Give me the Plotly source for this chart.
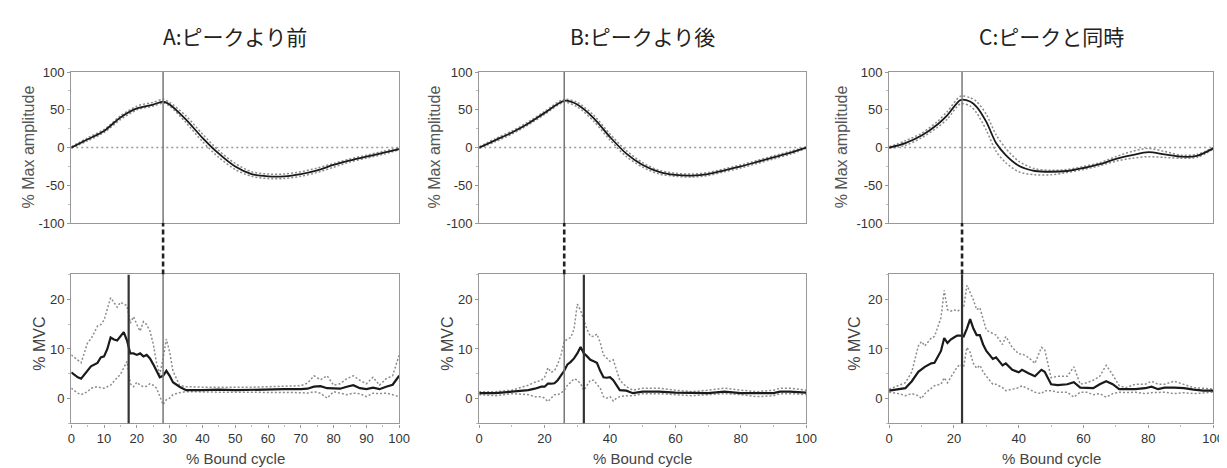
import plotly.graph_objects as go

# ---------------- data ----------------
panel_titles = ["A:ピークより前", "B:ピークより後", "C:ピークと同時"]
peak_x = [28, 26, 22.5]          # peak of movement amplitude
emg_peak_x = [17.5, 32, 22.5]    # peak of EMG

# top panels: % Max amplitude (mean, upper, lower)
amp_x_A = [0, 5, 10, 15, 20, 25, 28, 30, 35, 40, 45, 50, 55, 60, 65, 70, 75, 80, 85, 90, 95, 100]
amp_mean_A = [0, 11, 22, 40, 52, 57, 61, 57, 37, 13, -8, -25, -35, -38, -38, -35, -30, -23, -17, -12, -7, -2]
amp_up_A = [1, 13, 24, 42, 55, 60, 64, 60, 42, 18, -4, -21, -32, -35, -35, -32, -27, -21, -15, -10, -5, 0]
amp_lo_A = [-1, 9, 20, 37, 50, 55, 59, 55, 33, 8, -13, -29, -38, -41, -41, -38, -33, -26, -19, -14, -9, -3]

amp_x_B = [0, 5, 10, 15, 20, 26, 30, 35, 40, 45, 50, 55, 60, 65, 70, 75, 80, 85, 90, 95, 100]
amp_mean_B = [0, 10, 20, 32, 46, 62, 57, 39, 14, -8, -23, -32, -36, -37, -35, -30, -25, -19, -13, -7, 0]
amp_up_B = [1, 12, 22, 34, 48, 64, 60, 43, 18, -4, -20, -30, -34, -35, -33, -28, -23, -17, -11, -5, 1]
amp_lo_B = [-1, 8, 18, 30, 44, 60, 54, 35, 10, -12, -26, -35, -38, -39, -37, -32, -27, -21, -15, -9, -1]

amp_x_C = [0, 5, 10, 15, 18, 22, 25, 27, 30, 33, 36, 40, 45, 50, 55, 60, 65, 70, 75, 80, 85, 90, 95, 100]
amp_mean_C = [0, 6, 16, 31, 43, 63, 61, 54, 34, 6, -10, -24, -31, -32, -31, -27, -22, -15, -10, -6, -9, -12, -11, -1]
amp_up_C = [1, 9, 19, 35, 48, 68, 66, 61, 44, 17, -1, -18, -28, -30, -29, -25, -20, -12, -5, -1, -5, -10, -9, 0]
amp_lo_C = [-1, 3, 13, 27, 38, 58, 55, 46, 23, -5, -20, -32, -36, -36, -33, -29, -24, -18, -14, -12, -13, -14, -13, -2]

# bottom panels: % MVC (mean, upper, lower)
emg_x_A = [0, 2, 3, 5, 6, 8, 9, 10, 11, 12, 13, 14, 15, 16, 17, 18, 19, 20, 21, 22, 23, 24, 25, 26, 27, 28, 29, 30,
           31, 33, 35, 40, 45, 50, 55, 60, 65, 70, 72, 74, 76, 78, 80, 82, 84, 86, 88, 90, 92, 94, 96, 98, 100]
emg_mean_A = [5.3, 4.3, 4.0, 5.6, 6.5, 7.2, 8.3, 8.5, 10.0, 12.3, 11.9, 11.7, 12.6, 13.4, 11.7, 9.1, 9.1, 8.8, 9.1,
              8.5, 8.8, 8.1, 6.9, 5.6, 4.3, 4.6, 5.6, 4.6, 3.3, 2.4, 1.7, 1.7, 1.8, 1.7, 1.8, 1.9, 1.9, 1.9, 2.0,
              2.4, 2.5, 2.1, 2.0, 2.0, 2.4, 2.7, 2.1, 1.9, 2.2, 1.9, 2.4, 2.8, 4.6]
emg_up_A = [8.8, 7.8, 7.2, 11.3, 12.0, 14.6, 14.9, 15.8, 18.0, 20.3, 19.4, 18.4, 19.4, 19.0, 18.7, 15.2, 16.5, 14.9,
            13.6, 15.5, 14.9, 13.6, 11.0, 7.2, 4.9, 8.1, 12.0, 9.4, 5.6, 2.7, 2.4, 2.3, 2.3, 2.2, 2.3, 2.4, 2.5, 2.6,
            3.1, 4.6, 3.8, 4.6, 2.7, 3.0, 4.0, 4.6, 3.7, 3.0, 4.3, 2.7, 4.0, 4.6, 8.8]
emg_lo_A = [2.1, 1.1, 0.8, 1.4, 2.1, 2.4, 2.2, 2.1, 2.4, 2.7, 3.5, 4.3, 4.9, 6.2, 7.5, 3.0, 2.4, 3.3, 2.7, 2.4, 2.5,
            3.0, 2.7, 2.1, 0.4, -1.2, -0.2, 0.1, 0.8, 1.2, 1.4, 1.3, 1.3, 1.3, 1.3, 1.3, 1.2, 1.2, 1.1, 1.4, 1.1, 0.1,
            1.4, 1.1, 0.8, 1.1, 1.0, 0.4, 1.1, 1.0, 1.1, 0.8, 0.4]

emg_x_B = [0, 5, 10, 15, 17, 19, 20, 21, 22, 23, 24, 25, 26, 27, 28, 29, 30, 31, 32, 33, 34, 35, 36, 37, 38, 39, 40,
           41, 42, 43, 45, 47, 50, 55, 60, 65, 70, 75, 80, 85, 90, 92, 95, 100]
emg_mean_B = [1.1, 1.1, 1.4, 1.7, 2.0, 2.4, 2.4, 3.0, 3.0, 3.1, 3.7, 4.6, 5.6, 6.9, 7.4, 8.1, 9.1, 10.4, 9.1, 8.5,
              7.8, 7.5, 7.2, 5.6, 4.3, 4.2, 4.3, 3.7, 2.7, 1.7, 1.6, 1.1, 1.4, 1.4, 1.2, 1.1, 1.1, 1.4, 1.1, 1.1,
              1.1, 1.4, 1.4, 1.2]
emg_up_B = [1.4, 1.4, 1.7, 2.7, 3.3, 3.7, 4.3, 6.2, 5.3, 5.6, 6.9, 8.8, 11.5, 12.0, 12.3, 14.0, 19.0, 17.8, 15.8,
            13.9, 12.6, 12.5, 13.0, 11.3, 8.8, 8.1, 7.5, 7.8, 5.6, 3.7, 2.4, 1.7, 2.1, 2.1, 1.7, 1.4, 1.7, 2.1, 1.7,
            1.4, 1.7, 2.1, 2.1, 1.7]
emg_lo_B = [0.8, 0.6, 1.0, 0.8, 0.4, 0.4, 0.1, -0.6, 0.1, 0.8, 0.8, 1.1, 1.7, 2.7, 3.3, 4.0, 3.7, 3.0, 1.7, 2.7,
            3.7, 3.7, 3.0, 2.1, 0.4, 0.1, 0.4, -0.5, 0.1, 0.4, 0.6, 0.6, 1.0, 1.0, 0.8, 0.6, 0.8, 1.0, 0.8, 0.4,
            0.6, 1.0, 1.0, 0.8]

emg_x_C = [0, 3, 5, 7, 9, 10, 11, 13, 14, 16, 17, 18, 19, 20, 21, 22, 23, 24, 25, 26, 27, 28, 29, 30, 32, 33, 35,
           36, 38, 40, 41, 43, 45, 47, 48, 50, 52, 55, 57, 59, 61, 63, 65, 67, 69, 71, 73, 76, 79, 81, 83, 85, 88,
           91, 94, 97, 100]
emg_mean_C = [1.6, 1.9, 2.1, 3.5, 5.4, 5.9, 6.4, 7.1, 7.2, 9.6, 12.2, 11.2, 11.9, 12.3, 12.7, 12.7, 12.5, 14.1,
              16.0, 14.1, 12.8, 12.8, 10.9, 9.6, 8.0, 8.3, 6.7, 7.1, 5.8, 5.3, 5.8, 5.1, 4.5, 5.8, 5.4, 2.9, 2.7,
              2.9, 3.3, 2.2, 2.1, 2.1, 2.9, 3.5, 2.9, 1.9, 1.9, 1.9, 2.1, 2.4, 1.9, 2.2, 2.2, 2.1, 1.8, 1.6, 1.6]
emg_up_C = [1.9, 2.6, 3.2, 5.4, 10.6, 11.5, 10.6, 12.2, 12.5, 16.3, 21.8, 17.9, 17.6, 17.9, 17.6, 17.9, 18.3, 22.8,
            21.5, 19.9, 17.9, 18.3, 16.0, 13.8, 13.1, 12.8, 10.9, 12.5, 10.3, 9.0, 9.0, 8.3, 7.1, 10.3, 9.9, 4.2,
            4.5, 4.5, 6.4, 2.9, 3.2, 3.7, 4.5, 6.7, 4.8, 2.6, 2.2, 2.9, 2.9, 3.5, 2.9, 2.9, 3.5, 2.9, 2.2, 2.1, 1.9]
emg_lo_C = [1.3, 1.0, 0.6, 1.0, 0.6, 0.0, 1.0, 2.2, 2.6, 2.9, 4.2, 3.2, 4.2, 5.4, 6.4, 6.9, 6.4, 10.3, 9.3, 7.1,
            6.1, 6.7, 5.4, 4.5, 2.9, 2.9, 2.2, 1.6, 1.9, 2.2, 2.6, 1.9, 1.3, 1.0, 1.6, 1.6, 1.3, 1.3, 0.3, 1.3, 1.3,
            0.8, 1.0, 0.3, 1.0, 1.3, 1.2, 1.3, 1.0, 1.2, 1.2, 1.3, 1.0, 1.2, 1.0, 1.2, 1.3]

amp_ticks = [-100, -50, 0, 50, 100]
amp_ticktext = ["-100", "-50", "0", "50", "100"]
emg_ticks = [0, 10, 20]
emg_xdticks = [10, 20, 20]

# ---------------- layout geometry ----------------
W, H = 1227, 468
x_dom_px = [(60, 392), (473, 804), (888, 1216)]
top_px = (59, 215)
bot_px = (268, 422)
ytitle_top_px = [17, 428, 840]
ytitle_bot_px = [27, 440, 853]

def px_x(p):
    return p / W

def px_y(p):
    return 1 - p / H

top_dom = [px_y(top_px[1]), px_y(top_px[0])]
bot_dom = [px_y(bot_px[1]), px_y(bot_px[0])]

FRAME = "#999999"
SANS = "Arial, 'Liberation Sans', sans-serif"
TICKFONT = dict(family=SANS, size=13, color="#333333")
MEAN_C = "#1a1a1a"
SD_C = "#8c8c8c"

fig = go.Figure()

amp_data = [
    (amp_x_A, amp_mean_A, amp_up_A, amp_lo_A),
    (amp_x_B, amp_mean_B, amp_up_B, amp_lo_B),
    (amp_x_C, amp_mean_C, amp_up_C, amp_lo_C),
]
emg_data = [
    (emg_x_A, emg_mean_A, emg_up_A, emg_lo_A),
    (emg_x_B, emg_mean_B, emg_up_B, emg_lo_B),
    (emg_x_C, emg_mean_C, emg_up_C, emg_lo_C),
]

layout = dict(
    width=W, height=H,
    margin=dict(l=0, r=0, t=0, b=0),
    paper_bgcolor="white", plot_bgcolor="white",
    showlegend=False,
)
shapes = []
annotations = []

for i in range(3):
    top_n = 2 * i + 1
    bot_n = 2 * i + 2
    xt = "x" if top_n == 1 else f"x{top_n}"
    yt = "y" if top_n == 1 else f"y{top_n}"
    xb = f"x{bot_n}"
    yb = f"y{bot_n}"
    dom = [px_x(x_dom_px[i][0]), px_x(x_dom_px[i][1])]

    layout["xaxis" if top_n == 1 else f"xaxis{top_n}"] = dict(
        domain=dom, anchor=yt, range=[0, 100], showticklabels=False, ticks="",
        showgrid=False, zeroline=False, showline=True, mirror=True,
        linecolor=FRAME, linewidth=1.2,
    )
    layout["yaxis" if top_n == 1 else f"yaxis{top_n}"] = dict(
        domain=top_dom, anchor=xt, range=[-100, 100], tickvals=amp_ticks, ticktext=amp_ticktext,
        ticks="outside", ticklen=3, tickcolor=FRAME, tickfont=TICKFONT,
        minor=dict(dtick=25, ticks="outside", ticklen=2, tickcolor="#bbbbbb"),
        showgrid=False, zeroline=False, showline=True, mirror=True,
        linecolor=FRAME, linewidth=1.2,
    )
    layout[f"xaxis{bot_n}"] = dict(
        domain=dom, anchor=yb, range=[0, 100], dtick=emg_xdticks[i], tick0=0,
        ticks="outside", ticklen=3, tickcolor=FRAME, tickfont=TICKFONT,
        minor=dict(dtick=emg_xdticks[i] / 2, ticks="outside", ticklen=2, tickcolor="#bbbbbb"),
        showgrid=False, zeroline=False, showline=True, mirror=True,
        linecolor=FRAME, linewidth=1.2,
    )
    layout[f"yaxis{bot_n}"] = dict(
        domain=bot_dom, anchor=xb, range=[-5, 25], tickvals=emg_ticks,
        ticks="outside", ticklen=3, tickcolor=FRAME, tickfont=TICKFONT,
        minor=dict(dtick=5, ticks="outside", ticklen=2, tickcolor="#bbbbbb"),
        showgrid=False, zeroline=False, showline=True, mirror=True,
        linecolor=FRAME, linewidth=1.2,
    )

    ax, am, au, al = amp_data[i]
    fig.add_trace(go.Scatter(x=[0, 100], y=[0, 0], mode="lines", xaxis=xt, yaxis=yt,
                             line=dict(color="#999999", width=1.5, dash="2px,3px")))
    for ys in (au, al):
        fig.add_trace(go.Scatter(x=ax, y=ys, mode="lines", xaxis=xt, yaxis=yt,
                                 line=dict(color=SD_C, width=1.5, dash="2px,2px", shape="spline", smoothing=0.8)))
    fig.add_trace(go.Scatter(x=ax, y=am, mode="lines", xaxis=xt, yaxis=yt,
                             line=dict(color=MEAN_C, width=1.8, shape="spline", smoothing=0.8)))

    ex, em, eu, el = emg_data[i]
    for ys in (eu, el):
        fig.add_trace(go.Scatter(x=ex, y=ys, mode="lines", xaxis=xb, yaxis=yb,
                                 line=dict(color=SD_C, width=1.5, dash="2px,2px")))
    fig.add_trace(go.Scatter(x=ex, y=em, mode="lines", xaxis=xb, yaxis=yb,
                             line=dict(color=MEAN_C, width=2.2)))

    shapes.append(dict(type="line", xref=xt, yref=yt, x0=peak_x[i], x1=peak_x[i], y0=-100, y1=100,
                       line=dict(color="#777777", width=1.5)))
    shapes.append(dict(type="line", xref=xb, yref=yb, x0=peak_x[i], x1=peak_x[i], y0=-5, y1=25,
                       line=dict(color="#777777", width=1.5)))
    shapes.append(dict(type="line", xref=xb, yref=yb, x0=emg_peak_x[i], x1=emg_peak_x[i], y0=-5, y1=25,
                       line=dict(color="#333333", width=2.2)))
    shapes.append(dict(type="line", xref=xt, yref="paper", x0=peak_x[i], x1=peak_x[i],
                       y0=bot_dom[1], y1=top_dom[0],
                       line=dict(color="#222222", width=2.6, dash="5px,3px")))

    cx = (dom[0] + dom[1]) / 2
    annotations.append(dict(text=panel_titles[i], x=cx, y=px_y(22), xref="paper", yref="paper",
                            showarrow=False, xanchor="center", yanchor="middle",
                            font=dict(family="Noto Sans CJK JP", size=21, color="#222222")))
    annotations.append(dict(text="% Max amplitude", x=px_x(ytitle_top_px[i]), y=px_y(136),
                            xref="paper", yref="paper", textangle=-90, showarrow=False,
                            xanchor="center", yanchor="middle",
                            font=dict(family=SANS, size=16, color="#555555")))
    annotations.append(dict(text="% MVC", x=px_x(ytitle_bot_px[i]), y=px_y(340),
                            xref="paper", yref="paper", textangle=-90, showarrow=False,
                            xanchor="center", yanchor="middle",
                            font=dict(family=SANS, size=16, color="#444444")))
    annotations.append(dict(text="% Bound cycle", x=cx, y=px_y(458), xref="paper", yref="paper",
                            showarrow=False, xanchor="center", yanchor="middle",
                            font=dict(family=SANS, size=15, color="#444444")))

layout["shapes"] = shapes
layout["annotations"] = annotations
fig.update_layout(**layout)

fig.write_html("out.html")
